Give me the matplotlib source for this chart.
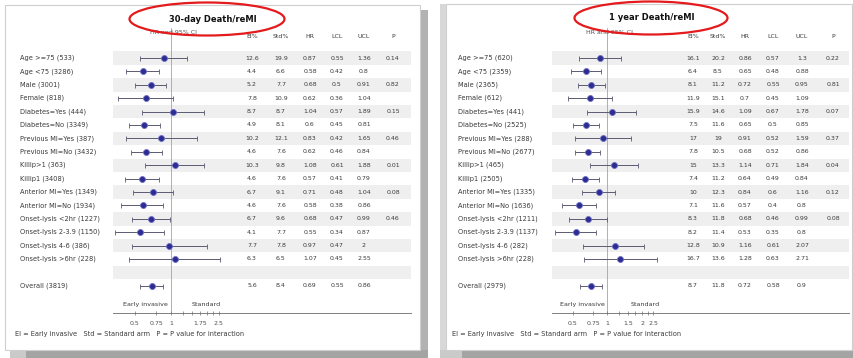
import numpy as np
import matplotlib
matplotlib.use("Agg")
import matplotlib.pyplot as plt
from matplotlib import transforms
from matplotlib.patches import Ellipse, Rectangle
from matplotlib.ticker import NullFormatter

# ---- data: 30-day death/reMI ----
labels_30 = ["Age >=75 (533)", "Age <75 (3286)", "Male (3001)", "Female (818)",
             "Diabetes=Yes (444)", "Diabetes=No (3349)", "Previous MI=Yes (387)",
             "Previous MI=No (3432)", "Killip>1 (363)", "Killip1 (3408)",
             "Anterior MI=Yes (1349)", "Anterior MI=No (1934)", "Onset-lysis <2hr (1227)",
             "Onset-lysis 2-3.9 (1150)", "Onset-lysis 4-6 (386)", "Onset-lysis >6hr (228)",
             "Overall (3819)"]
ei_30 = [12.6, 4.4, 5.2, 7.8, 8.7, 4.9, 10.2, 4.6, 10.3, 4.6, 6.7, 4.6, 6.7, 4.1, 7.7, 6.3, 5.6]
std_30 = [19.9, 6.6, 7.7, 10.9, 8.7, 8.1, 12.1, 7.6, 9.8, 7.6, 9.1, 7.6, 9.6, 7.7, 7.8, 6.5, 8.4]
hr_30 = [0.87, 0.58, 0.68, 0.62, 1.04, 0.60, 0.83, 0.62, 1.08, 0.57, 0.71, 0.58, 0.68, 0.55, 0.97, 1.07, 0.69]
lcl_30 = [0.55, 0.42, 0.50, 0.36, 0.57, 0.45, 0.42, 0.46, 0.61, 0.41, 0.48, 0.38, 0.47, 0.34, 0.47, 0.45, 0.55]
ucl_30 = [1.36, 0.80, 0.91, 1.04, 1.89, 0.81, 1.65, 0.84, 1.88, 0.79, 1.04, 0.86, 0.99, 0.87, 2.00, 2.55, 0.86]
p_30 = ["0.14", "", "0.82", "", "0.15", "", "0.46", "", "0.01", "", "0.08", "", "0.46", "", "", "", ""]

# ---- data: 1 year death/reMI ----
labels_1y = ["Age >=75 (620)", "Age <75 (2359)", "Male (2365)", "Female (612)",
             "Diabetes=Yes (441)", "Diabetes=No (2525)", "Previous MI=Yes (288)",
             "Previous MI=No (2677)", "Killip>1 (465)", "Killip1 (2505)",
             "Anterior MI=Yes (1335)", "Anterior MI=No (1636)", "Onset-lysis <2hr (1211)",
             "Onset-lysis 2-3.9 (1137)", "Onset-lysis 4-6 (282)", "Onset-lysis >6hr (228)",
             "Overall (2979)"]
ei_1y = [16.1, 6.4, 8.1, 11.9, 15.9, 7.5, 17.0, 7.8, 15.0, 7.4, 10.0, 7.1, 8.3, 8.2, 12.8, 16.7, 8.7]
std_1y = [20.2, 8.5, 11.2, 15.1, 14.6, 11.6, 19.0, 10.5, 13.3, 11.2, 12.3, 11.6, 11.8, 11.4, 10.9, 13.6, 11.8]
hr_1y = [0.86, 0.65, 0.72, 0.70, 1.09, 0.65, 0.91, 0.68, 1.14, 0.64, 0.84, 0.57, 0.68, 0.53, 1.16, 1.28, 0.72]
lcl_1y = [0.57, 0.48, 0.55, 0.45, 0.67, 0.50, 0.52, 0.52, 0.71, 0.49, 0.60, 0.40, 0.46, 0.35, 0.61, 0.63, 0.58]
ucl_1y = [1.30, 0.88, 0.95, 1.09, 1.78, 0.85, 1.59, 0.86, 1.84, 0.84, 1.16, 0.80, 0.99, 0.80, 2.07, 2.71, 0.90]
p_1y = ["0.22", "", "0.81", "", "0.07", "", "0.37", "", "0.04", "", "0.12", "", "0.08", "", "", "", ""]

headers = ["EI%", "Std%", "HR", "LCL", "UCL", "P"]
footer = "EI = Early invasive   Std = Standard arm   P = P value for interaction"
rows = list(range(1, 17)) + [18]   # row 17 is the blank spacer

W, H = 854, 358
TOP, BOTTOM = 28, 313
ROW0, STEP = 58, 13.4
ylim = (1 + (BOTTOM - ROW0) / STEP, 1 + (TOP - ROW0) / STEP)
TXT = "#3a3a3a"


def box(x0, x1):
    # pixel span -> figure fraction rect
    return [x0 / W, 1 - BOTTOM / H, (x1 - x0) / W, (BOTTOM - TOP) / H]


def fmt(v):
    return f"{v:g}"


def draw_panel(fig, bg, fg, title, labels, ei, std, hr, lcl, ucl, pv, g):
    hr, lcl, ucl = np.array(hr), np.array(lcl), np.array(ucl)

    # table area (bands + numbers)
    tab = fig.add_axes(box(*g["band"]), zorder=1)
    tab.set_xlim(0, 1)
    tab.set_ylim(*ylim)
    tab.patch.set_visible(False)
    for s in ["top", "left", "right"]:
        tab.spines[s].set_visible(False)
    tab.spines["bottom"].set_color("#808080")
    tab.spines["bottom"].set_linewidth(0.7)
    tab.set_xticks([])
    tab.set_yticks([])
    for r in range(1, 18, 2):
        tab.axhspan(r - 0.5, r + 0.5, color="#efefef", lw=0)

    tr = transforms.blended_transform_factory(bg.transData, tab.transData)
    cols = [ei, std, list(hr), list(lcl), list(ucl), pv]
    for i, r in enumerate(rows):
        tab.text(g["label_x"], r, labels[i], transform=tr, ha="left", va="center",
                 fontsize=4.8, color=TXT)
        for cx, col in zip(g["cols"], cols):
            v = col[i]
            s = v if isinstance(v, str) else fmt(v)
            tab.text(cx, r, s, transform=tr, ha="center", va="center",
                     fontsize=4.5, color=TXT)
    for cx, h in zip(g["cols"], headers):
        tab.text(cx, -0.6, h, transform=tr, ha="center", va="center",
                 fontsize=4.5, color=TXT)

    # forest plot, log scale
    lo, hi = 0.33, 3.0
    x0 = g["ref"] + g["scale"] * np.log(lo)
    x1 = g["ref"] + g["scale"] * np.log(hi)
    fo = fig.add_axes(box(x0, x1), zorder=2)
    fo.set_xscale("log")
    fo.set_xlim(lo, hi)
    fo.set_ylim(*ylim)
    fo.patch.set_visible(False)
    for s in fo.spines.values():
        s.set_visible(False)
    fo.set_yticks([])
    fo.axvline(1, color="#a0a0c0", lw=0.6, zorder=1)
    fo.errorbar(hr, rows, xerr=[hr - lcl, ucl - hr], fmt="none", ecolor="#5a5a72",
                elinewidth=0.7, capsize=1.8, capthick=0.6, zorder=2)
    fo.plot(hr, rows, "o", ms=4.3, color="#2c2c92", mec="#7070c4", mew=0.6, zorder=3)
    fo.set_xticks(g["ticks"], [fmt(t) for t in g["ticks"]])
    fo.set_xticks(g["minor"], minor=True)
    fo.xaxis.set_minor_formatter(NullFormatter())
    fo.tick_params(axis="x", which="both", direction="inout", length=3, width=0.5,
                   color="#707070", labelsize=4.5, labelcolor="#505050", pad=4)
    fo.text(1.05, -0.9, "HR and 95% CI", ha="center", va="center", fontsize=4.5, color="#505050")
    fo.text(g["ei_x"], 19.4, "Early invasive", ha="right", va="center", fontsize=4.6, color=TXT)
    fo.text(g["std_x"], 19.4, "Standard", ha="left", va="center", fontsize=4.6, color=TXT)

    # title + red highlight ellipse
    fg.text(*g["title_xy"], title, ha="center", va="center", fontsize=6,
            fontweight="bold", color="#111111")
    ex, ey, ew, eh = g["ellipse"]
    fg.add_patch(Ellipse((ex, ey), ew, eh, fill=False, edgecolor="#e41a1c", lw=1.6))
    bg.text(*g["footer_xy"], footer, ha="left", va="center", fontsize=4.8, color=TXT)


fig = plt.figure(figsize=(W / 100, H / 100), dpi=100)

bg = fig.add_axes([0, 0, 1, 1], zorder=0)
bg.set_xlim(0, W)
bg.set_ylim(H, 0)
bg.axis("off")
fg = fig.add_axes([0, 0, 1, 1], zorder=5)
fg.set_xlim(0, W)
fg.set_ylim(H, 0)
fg.axis("off")

# window frames and shadows
bg.add_patch(Rectangle((420, 10), 8, 348, color="#b2b2b2", lw=0))
bg.add_patch(Rectangle((10, 350), 418, 8, color="#a4a4a4", lw=0))
bg.add_patch(Rectangle((10, 350), 16, 8, color="#cacaca", lw=0))
bg.add_patch(Rectangle((5, 5), 415, 345, facecolor="white", edgecolor="#cfcfcf", lw=0.8))
bg.add_patch(Rectangle((440, 4), 6, 354, color="#d8d8d8", lw=0))
bg.add_patch(Rectangle((446, 350), 408, 8, color="#a4a4a4", lw=0))
bg.add_patch(Rectangle((440, 350), 22, 8, color="#cacaca", lw=0))
bg.add_patch(Rectangle((446, 4), 406, 346, facecolor="white", edgecolor="#cfcfcf", lw=0.8))

left_geom = dict(band=(113, 411), label_x=20, ref=171, scale=52,
                 cols=[252, 281, 310, 337, 364, 393],
                 ticks=[0.5, 0.75, 1, 1.75, 2.5], minor=[1.25, 1.5, 2, 2.25],
                 ei_x=0.95, std_x=1.5, title_xy=(213, 19), ellipse=(207, 19, 155, 33),
                 footer_xy=(15, 334))
right_geom = dict(band=(552, 849), label_x=458, ref=607.5, scale=50,
                  cols=[693, 718, 745, 773, 802, 833],
                  ticks=[0.5, 0.75, 1, 1.5, 2, 2.5], minor=[1.25, 1.75, 2.25],
                  ei_x=0.95, std_x=1.6, title_xy=(652, 18), ellipse=(651, 18, 153, 33),
                  footer_xy=(452, 334))

draw_panel(fig, bg, fg, "30-day Death/reMI", labels_30, ei_30, std_30, hr_30, lcl_30,
           ucl_30, p_30, left_geom)
draw_panel(fig, bg, fg, "1 year Death/reMI", labels_1y, ei_1y, std_1y, hr_1y, lcl_1y,
           ucl_1y, p_1y, right_geom)

fig.savefig("out.png", dpi=100, facecolor="white")
